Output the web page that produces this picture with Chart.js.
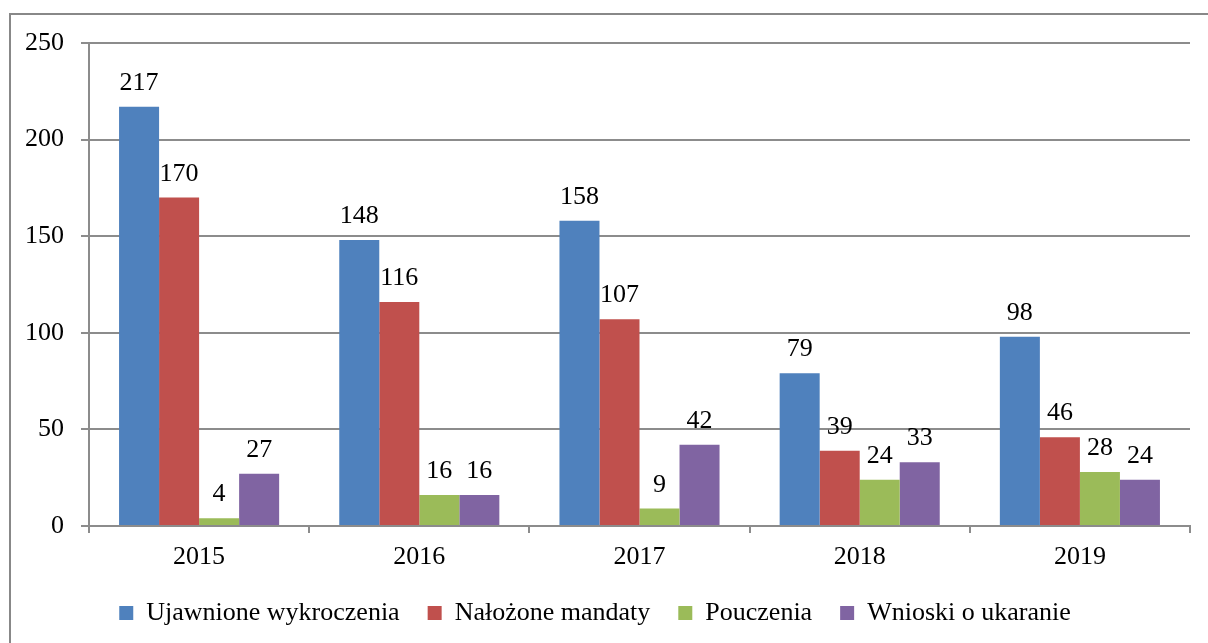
<!DOCTYPE html>
<html>
<head>
<meta charset="utf-8">
<script src="https://cdn.jsdelivr.net/npm/chart.js@4.4.3/dist/chart.umd.min.js"></script>
<style>
  html, body { margin: 0; padding: 0; background: #fff; }
  #wrap { width: 1208px; height: 643px; position: relative; }
</style>
</head>
<body>
<div id="wrap"><canvas id="chart"></canvas></div>
<script>
const years = ["2015", "2016", "2017", "2018", "2019"];
const seriesNames = ["Ujawnione wykroczenia", "Nałożone mandaty", "Pouczenia", "Wnioski o ukaranie"];
const ujawnione = [217, 148, 158, 79, 98];
const mandaty = [170, 116, 107, 39, 46];
const pouczenia = [4, 16, 9, 24, 28];
const wnioski = [27, 16, 42, 33, 24];
const colors = ["#4F81BD", "#C0504D", "#9BBB59", "#8064A2"];
const yTicks = [0, 50, 100, 150, 200, 250];

const FONT = "Liberation Serif";
const FS = 26;
const gridColor = "#8c8c8c";

// frame around the whole picture, cut off at right and bottom
const framePlugin = {
  id: "frame",
  beforeDraw(chart) {
    const ctx = chart.ctx;
    ctx.save();
    ctx.fillStyle = "#fff";
    ctx.fillRect(0, 0, chart.width, chart.height);
    ctx.strokeStyle = "#888";
    ctx.lineWidth = 2;
    ctx.strokeRect(10, 14, 1400, 1000);
    ctx.restore();
  }
};

// value labels above the bars
const valueLabels = {
  id: "valueLabels",
  afterDatasetsDraw(chart) {
    const ctx = chart.ctx;
    ctx.save();
    ctx.font = FS + "px \"" + FONT + "\"";
    ctx.fillStyle = "#000";
    ctx.textAlign = "center";
    ctx.textBaseline = "alphabetic";
    chart.data.datasets.forEach((ds, i) => {
      chart.getDatasetMeta(i).data.forEach((bar, j) => {
        ctx.fillText(String(ds.data[j]), bar.x, bar.y - 17);
      });
    });
    ctx.restore();
  }
};

function draw() {
  new Chart(document.getElementById("chart"), {
    type: "bar",
    data: {
      labels: years,
      datasets: [ujawnione, mandaty, pouczenia, wnioski].map((d, i) => ({
        label: seriesNames[i],
        data: d,
        backgroundColor: colors[i],
        borderWidth: 0,
        categoryPercentage: 0.727,
        barPercentage: 1.0,
      })),
    },
    options: {
      responsive: true,
      maintainAspectRatio: false,
      animation: false,
      layout: { padding: { top: 43, right: 18, left: 0, bottom: 7 } },
      plugins: {
        legend: {
          position: "bottom",
          labels: {
            font: { family: FONT, size: FS },
            color: "#000",
            boxWidth: 14,
            boxHeight: 14,
            padding: 28,
          },
        },
        tooltip: { enabled: false },
      },
      scales: {
        x: {
          grid: { offset: true, drawOnChartArea: false, drawTicks: true, tickLength: 7, color: gridColor, lineWidth: 2 },
          border: { display: true, color: gridColor, width: 2 },
          ticks: { font: { family: FONT, size: FS }, color: "#000", padding: 9 },
          afterFit(scale) { scale.height = 46; },
        },
        y: {
          min: 0,
          max: 250,
          afterBuildTicks(scale) { scale.ticks = yTicks.map(v => ({ value: v })); },
          grid: { drawTicks: true, tickLength: 8, color: gridColor, lineWidth: 2 },
          border: { display: true, color: gridColor, width: 2 },
          ticks: { font: { family: FONT, size: FS }, color: "#000", padding: 17 },
          afterFit(scale) { scale.width = 89; },
        },
      },
    },
    plugins: [framePlugin, valueLabels],
  });
}

document.fonts.load(FS + "px \"" + FONT + "\"").then(draw, draw);
</script>
</body>
</html>
